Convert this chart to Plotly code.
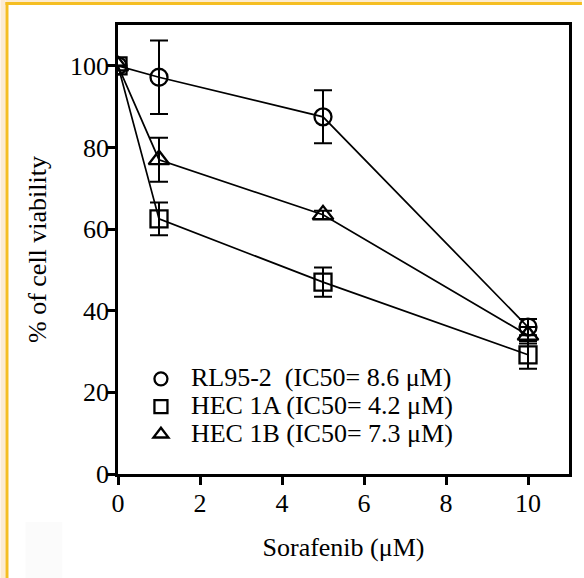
import plotly.graph_objects as go

# ---- data ----
doses = [0, 1, 5, 10]
series_names = ["RL95-2", "HEC 1A", "HEC 1B"]
ic50_labels = ["RL95-2&nbsp;&nbsp;(IC50= 8.6 μM)", "HEC 1A (IC50= 4.2 μM)", "HEC 1B (IC50= 7.3 μM)"]
rl95_vals = [100, 97.2, 87.5, 36]
rl95_err = [0, 9, 6.5, 2]
hec1a_vals = [100, 62.5, 47, 29.2]
hec1a_err = [0, 4, 3.6, 3.4]
hec1b_vals = [100, 77, 63.5, 34]
hec1b_err = [0, 5.4, 1, 2]
x_ticks = [0, 2, 4, 6, 8, 10]
y_ticks = [0, 20, 40, 60, 80, 100]

symbols = ["circle-open", "square-open", "triangle-up-open"]
sizes = [17, 17, 18]

FONT = "Liberation Serif"
W, H = 584, 578
L, R, T, B = 118, 13, 25, 104
PW, PH = W - L - R, H - T - B


def px_x(p):
    return (p - L) / PW


def px_y(p):
    return (H - B - p) / PH


fig = go.Figure()
all_vals = [rl95_vals, hec1a_vals, hec1b_vals]
all_errs = [rl95_err, hec1a_err, hec1b_err]
for i, name in enumerate(series_names):
    fig.add_trace(go.Scatter(
        x=doses, y=all_vals[i], mode="lines+markers", name=name, showlegend=False,
        line=dict(color="black", width=1.7),
        marker=dict(symbol=symbols[i], size=sizes[i], color="black",
                    line=dict(width=2.3, color="black")),
        error_y=dict(type="data", array=all_errs[i], visible=True,
                     color="black", thickness=2, width=9),
    ))
# legend entries (markers only)
for i, lab in enumerate(ic50_labels):
    fig.add_trace(go.Scatter(
        x=[None], y=[None], mode="markers",
        name='<span style="font-size:26px">' + lab + '</span>', showlegend=True,
        marker=dict(symbol=symbols[i], size=13, color="black",
                    line=dict(width=2.3, color="black")),
    ))

shapes = []
# decorative frame around the figure (cream strip + yellow line)
shapes.append(dict(type="rect", xref="paper", yref="paper",
                   x0=px_x(0), x1=px_x(5), y0=px_y(578), y1=px_y(0),
                   fillcolor="#FCEBD0", line=dict(width=0), layer="above"))
shapes.append(dict(type="rect", xref="paper", yref="paper",
                   x0=px_x(5), x1=px_x(584), y0=px_y(2), y1=px_y(0),
                   fillcolor="#FCEBD0", line=dict(width=0), layer="above"))
shapes.append(dict(type="rect", xref="paper", yref="paper",
                   x0=px_x(5), x1=px_x(8), y0=px_y(578), y1=px_y(2),
                   fillcolor="#F5BE22", line=dict(width=0), layer="above"))
shapes.append(dict(type="rect", xref="paper", yref="paper",
                   x0=px_x(5), x1=px_x(584), y0=px_y(5), y1=px_y(2),
                   fillcolor="#F5BE22", line=dict(width=0), layer="above"))
shapes.append(dict(type="rect", xref="paper", yref="paper",
                   x0=px_x(25), x1=px_x(62), y0=px_y(578), y1=px_y(522),
                   fillcolor="#FBFBFB", line=dict(width=0), layer="below"))

fig.update_layout(
    width=W, height=H,
    margin=dict(l=L, r=R, t=T, b=B),
    paper_bgcolor="white", plot_bgcolor="white",
    font=dict(family=FONT, size=19, color="black"),
    shapes=shapes,
    showlegend=True,
    legend=dict(x=px_x(131), y=px_y(360), xanchor="left", yanchor="top",
                bgcolor="rgba(0,0,0,0)", font=dict(family=FONT, size=19),
                itemwidth=50, tracegroupgap=0),
    xaxis=dict(range=[0, 11], tickvals=x_ticks, ticktext=[str(v) for v in x_ticks],
               showgrid=False, zeroline=False, showline=True, mirror=True,
               linecolor="black", linewidth=2.5, ticks="outside", ticklen=8,
               tickwidth=2.5, tickcolor="black", ticklabelstandoff=-4,
               tickfont=dict(family=FONT, size=26),
               title=dict(text="Sorafenib (μM)", font=dict(family=FONT, size=26), standoff=21)),
    yaxis=dict(range=[0, 110], tickvals=y_ticks, ticktext=[str(v) for v in y_ticks],
               showgrid=False, zeroline=False, showline=True, mirror=True,
               linecolor="black", linewidth=2.5, ticks="outside", ticklen=8,
               tickwidth=2.5, tickcolor="black", ticklabelstandoff=-7,
               tickfont=dict(family=FONT, size=26),
               title=dict(text="% of cell viability", font=dict(family=FONT, size=26), standoff=16)),
)

fig.write_html("out.html", config={"displayModeBar": False},
               post_script="document.body.style.margin='0px';")
